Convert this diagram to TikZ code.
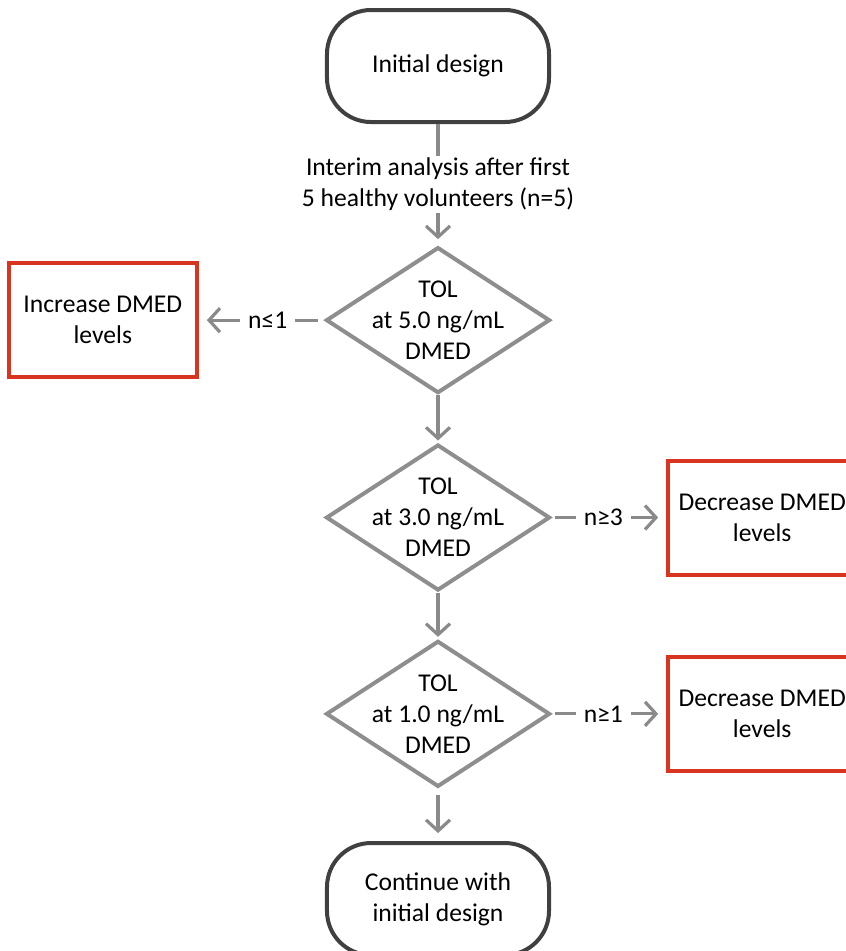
\documentclass[tikz,border=0pt]{standalone}
\usepackage{fontspec}
\setmainfont{Carlito}
\usetikzlibrary{shapes.geometric,arrows.meta}

\definecolor{termgray}{HTML}{404040}
\definecolor{diagray}{HTML}{8E8E8E}
\definecolor{linegray}{HTML}{8A8A8A}
\definecolor{boxred}{HTML}{D8341F}

\tikzset{
    term/.style={draw=termgray, line width=2pt, rounded corners=22pt,
        minimum width=111pt, minimum height=56pt, align=center},
    dia/.style={diamond, draw=diagray, line width=2pt, inner sep=0pt,
        minimum width=112pt, minimum height=73pt, aspect=1.53},
    act/.style={draw=boxred, line width=2pt, minimum width=94pt,
        minimum height=57pt, align=center},
    flow/.style={draw=linegray, line width=1.6pt,
        -{Straight Barb[length=5.5pt,width=12pt]}},
    lab/.style={fill=white, inner xsep=4pt, inner ysep=1pt, align=center}
}

\begin{document}
\begin{tikzpicture}[x=0.5pt, y=-0.5pt, font=\fontsize{12.8}{15.5}\selectfont]
    \useasboundingbox (0,0) rectangle (845,951);
    % Define matrix
    \matrix (m) [matrix anchor=start.center, column sep=57.5pt] at (438,66)
    {
        & \node[term] (start) {Initial design}; & \\[61pt]
        \node[act] (inc) {Increase DMED\\levels}; \path (inc.east) -- ++(5.5pt,0pt); &
        \node[dia, label={[align=center]center:TOL\\at 5.0 ng/mL\\DMED}] (d1) {}; & \\[24.5pt]
        & \node[dia, label={[align=center]center:TOL\\at 3.0 ng/mL\\DMED}] (d2) {}; &
        \node[act] (dec3) {Decrease DMED\\levels}; \\[24pt]
        & \node[dia, label={[align=center]center:TOL\\at 1.0 ng/mL\\DMED}] (d3) {}; &
        \node[act] (dec1) {Decrease DMED\\levels}; \\[26.5pt]
        & \node[term] (stop) {Continue with\\initial design}; & \\
    };
    % Draw arrows
    \draw[flow, shorten >=3pt] (start) -- (d1)
        node[midway, lab] {Interim analysis after first\\5 healthy volunteers (n=5)};
    \draw[flow, shorten <=3pt, shorten >=4pt] (d1) -- (inc) node[pos=0.45, lab] {n≤1};
    \draw[flow, shorten >=1pt] (d1) -- (d2);
    \draw[flow, shorten <=1.5pt, shorten >=4pt] (d2) -- (dec3) node[pos=0.45, lab] {n≥3};
    \draw[flow, shorten >=1pt] (d2) -- (d3);
    \draw[flow, shorten <=1.5pt, shorten >=4pt] (d3) -- (dec1) node[pos=0.45, lab] {n≥1};
    \draw[flow, shorten <=3pt, shorten >=4pt] (d3) -- (stop);
\end{tikzpicture}
\end{document}
